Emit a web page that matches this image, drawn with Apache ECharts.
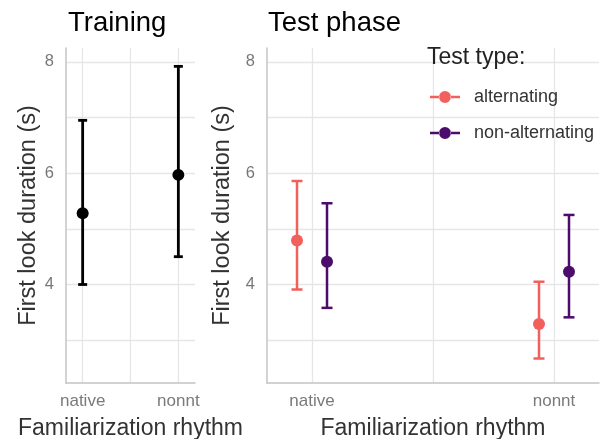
<!DOCTYPE html>
<html>
<head>
<meta charset="utf-8">
<script src="https://cdn.jsdelivr.net/npm/echarts@6/dist/echarts.min.js"></script>
<style>
  html, body { margin: 0; padding: 0; background: #fff; }
  #chart { width: 607px; height: 439px; }
</style>
</head>
<body>
<div id="chart"></div>
<script>
// categories on the x axis (both panels)
var categories = ["native", "nonnt"];
// y tick labels shown
var yTicks = [4, 6, 8];

// Training panel: mean and error bar ends
var trainMean = [5.28, 5.97];
var trainLow = [4.00, 4.50];
var trainHigh = [6.95, 7.92];

// Test phase panel
var testTypes = ["alternating", "non-alternating"];
var altMean = [4.79, 3.29];
var altLow = [3.91, 2.67];
var altHigh = [5.86, 4.05];
var nonAltMean = [4.41, 4.23];
var nonAltLow = [3.58, 3.41];
var nonAltHigh = [5.46, 5.25];

var colors = { train: "#000000", alt: "#F1605D", nonAlt: "#4B0C6B" };
var dodge = 0.062;
var font = "Liberation Sans, Arial, sans-serif";

function pos(i, off) { return i + 1 + off; }

function points(mean, off) {
  return mean.map(function (v, i) { return [pos(i, off), v]; });
}
function bars(low, high, off) {
  return low.map(function (v, i) { return [pos(i, off), v, high[i]]; });
}

function errorBar(capW, lw, color) {
  return function (params, api) {
    var lo = api.coord([api.value(0), api.value(1)]);
    var hi = api.coord([api.value(0), api.value(2)]);
    var st = { stroke: color, lineWidth: lw };
    return {
      type: "group",
      children: [
        { type: "line", shape: { x1: lo[0], y1: lo[1], x2: hi[0], y2: hi[1] }, style: st },
        { type: "line", shape: { x1: lo[0] - capW / 2, y1: lo[1], x2: lo[0] + capW / 2, y2: lo[1] }, style: st },
        { type: "line", shape: { x1: hi[0] - capW / 2, y1: hi[1], x2: hi[0] + capW / 2, y2: hi[1] }, style: st }
      ]
    };
  };
}

function xAxis(grid, min, max) {
  return {
    type: "value", gridIndex: grid, min: min, max: max, splitNumber: 3,
    name: "Familiarization rhythm", nameLocation: "middle", nameGap: 34,
    nameTextStyle: { fontSize: 23, color: "#333", fontFamily: font },
    axisLine: { show: true, lineStyle: { color: "#c4c4c4", width: 1.5 } },
    axisTick: { show: false },
    axisLabel: {
      fontSize: 17, color: "#7a7a7a", fontFamily: font, margin: 10,
      showMinLabel: false, showMaxLabel: false,
      formatter: function (v) {
        var k = Math.round(v);
        return Math.abs(v - k) < 1e-6 && categories[k - 1] ? categories[k - 1] : "";
      }
    },
    splitLine: { show: true, showMinLine: false, showMaxLine: false, lineStyle: { color: "#e6e6e6", width: 1.3 } }
  };
}

function yAxis(grid) {
  return {
    type: "value", gridIndex: grid, min: 2.23, max: 8.25, splitNumber: 6,
    name: "First look duration (s)", nameLocation: "middle", nameGap: 22, nameRotate: 90,
    nameTextStyle: { fontSize: 23.5, color: "#333", fontFamily: font },
    axisLine: { show: true, lineStyle: { color: "#c4c4c4", width: 1.5 } },
    axisTick: { show: false },
    axisLabel: {
      fontSize: 16.5, color: "#777", fontFamily: font, margin: 12,
      showMinLabel: false, showMaxLabel: false,
      formatter: function (v) { return yTicks.indexOf(v) >= 0 ? String(v) : ""; }
    },
    splitLine: { show: true, showMinLine: false, showMaxLine: false, lineStyle: { color: "#e6e6e6", width: 1.3 } }
  };
}

var legendIcon = "path://M0,4.8h9.5v2.4h-9.5z M20.5,4.8h9.5v2.4h-9.5z M9,6a6,6 0 1,0 12,0a6,6 0 1,0 -12,0z";

var option = {
  backgroundColor: "#fff",
  animation: false,
  title: [
    { text: "Training", left: 68, top: 9, padding: 0, textStyle: { fontSize: 27.5, fontWeight: "normal", color: "#000", fontFamily: font } },
    { text: "Test phase", left: 268, top: 9, padding: 0, textStyle: { fontSize: 27.5, fontWeight: "normal", color: "#000", fontFamily: font } },
    { text: "Test type:", left: 427, top: 46, padding: 0, textStyle: { fontSize: 23, fontWeight: "normal", color: "#222", fontFamily: font } }
  ],
  legend: {
    orient: "vertical", left: 430, top: 88, padding: 0, itemWidth: 30, itemHeight: 12, itemGap: 18,
    data: testTypes.map(function (n) { return { name: n, icon: legendIcon }; }),
    textStyle: { fontSize: 18, color: "#333", fontFamily: font, padding: [0, 0, 0, 9] }
  },
  grid: [
    { left: 66, right: 412, top: 48, bottom: 56, outerBoundsMode: "none" },
    { left: 267, right: 8, top: 48, bottom: 56, outerBoundsMode: "none" }
  ],
  xAxis: [xAxis(0, 0.826, 2.174), xAxis(1, 0.814, 2.186)],
  yAxis: [yAxis(0), yAxis(1)],
  series: [
    { type: "custom", xAxisIndex: 0, yAxisIndex: 0, data: bars(trainLow, trainHigh, 0),
      renderItem: errorBar(9, 2.8, colors.train), z: 2 },
    { type: "scatter", xAxisIndex: 0, yAxisIndex: 0, data: points(trainMean, 0),
      symbolSize: 12, itemStyle: { color: colors.train, opacity: 1 }, z: 3 },
    { name: testTypes[0], type: "custom", xAxisIndex: 1, yAxisIndex: 1, data: bars(altLow, altHigh, -dodge),
      renderItem: errorBar(11, 2.5, colors.alt), itemStyle: { color: colors.alt }, z: 2 },
    { name: testTypes[0], type: "scatter", xAxisIndex: 1, yAxisIndex: 1, data: points(altMean, -dodge),
      symbolSize: 12, itemStyle: { color: colors.alt, opacity: 1 }, z: 3 },
    { name: testTypes[1], type: "custom", xAxisIndex: 1, yAxisIndex: 1, data: bars(nonAltLow, nonAltHigh, dodge),
      renderItem: errorBar(11, 2.5, colors.nonAlt), itemStyle: { color: colors.nonAlt }, z: 2 },
    { name: testTypes[1], type: "scatter", xAxisIndex: 1, yAxisIndex: 1, data: points(nonAltMean, dodge),
      symbolSize: 12, itemStyle: { color: colors.nonAlt, opacity: 1 }, z: 3 }
  ]
};

var chart = echarts.init(document.getElementById("chart"), null, { renderer: "canvas" });
chart.setOption(option);
</script>
</body>
</html>
